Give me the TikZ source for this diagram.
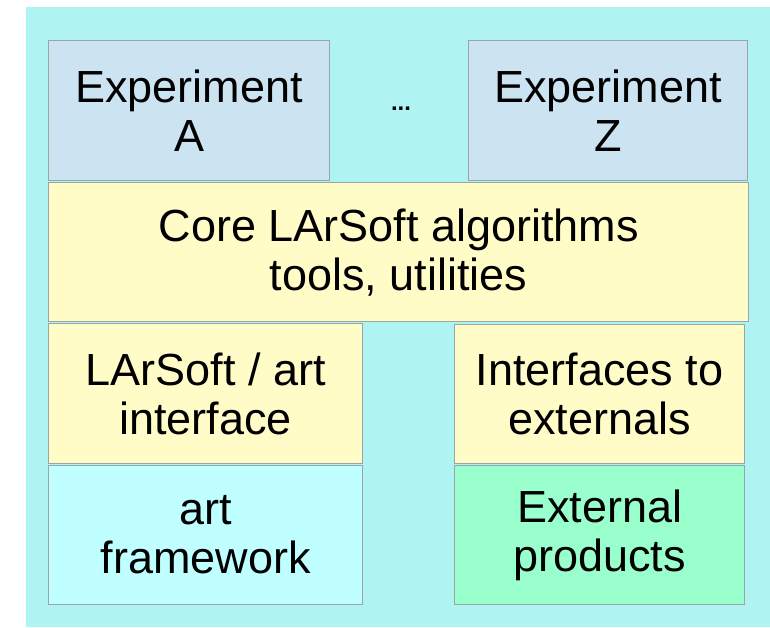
\documentclass[tikz,border=0pt]{standalone}
\usepackage{fontspec}
\setmainfont{Liberation Sans}
\definecolor{bgc}{HTML}{B0F3F3}
\definecolor{expc}{HTML}{CCE3F2}
\definecolor{corec}{HTML}{FFFCC8}
\definecolor{artc}{HTML}{C0FFFF}
\definecolor{extc}{HTML}{99FFCC}
\definecolor{edgec}{HTML}{9AA5A5}
\begin{document}
\begin{tikzpicture}[x=1pt,y=-1pt,
  blk/.style={draw=edgec, line width=1.3pt, anchor=north west, align=center,
    inner sep=0pt, font=\fontsize{45}{49}\selectfont, text=black}]
\useasboundingbox (0,0) rectangle (770,627);
\fill[bgc] (26,7) rectangle (770,627);
\node[blk, fill=expc, minimum width=281pt, minimum height=140pt] (expa) at (48,40) {Experiment\\A};
\node[blk, fill=expc, minimum width=279pt, minimum height=140pt] (expz) at (468,40) {Experiment\\Z};
\node[font=\fontsize{24}{24}\selectfont\bfseries, anchor=base, inner sep=0pt] (dots) at (401,110) {...};
\node[blk, fill=corec, minimum width=700pt, minimum height=139pt] (core) at (48,182) {Core LArSoft algorithms\\tools, utilities};
\node[blk, fill=corec, minimum width=314pt, minimum height=140pt] (lai) at (48,323) {LArSoft / art\\interface};
\node[blk, fill=corec, minimum width=290pt, minimum height=139pt] (ite) at (454,324) {Interfaces to\\externals};
\node[blk, fill=artc, minimum width=314pt, minimum height=139pt] (art) at (48,465) {art\\framework};
\node[blk, fill=extc, minimum width=290pt, minimum height=139pt] (ext) at (454,465) {External\\products};
\end{tikzpicture}
\end{document}
